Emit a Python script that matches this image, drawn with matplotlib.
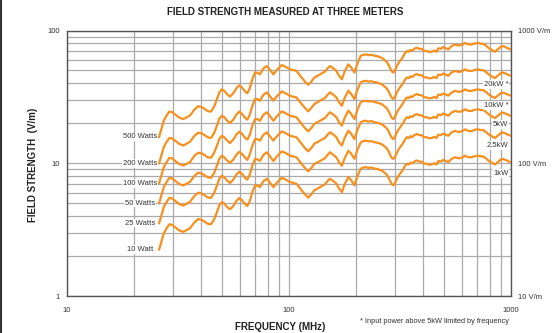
import matplotlib
matplotlib.use('Agg')
import matplotlib.pyplot as plt
from matplotlib.lines import Line2D
from matplotlib.ticker import NullLocator, NullFormatter

plt.rcParams['font.family'] = ['Liberation Sans', 'DejaVu Sans']

freq = [26, 27.3, 28.1, 28.9, 29.7, 30.7, 32, 33.4, 35.8, 37.5,
        39, 40.3, 41.4, 43, 44.5, 46, 47.3, 48.5, 49.8, 51,
        52.5, 54.2, 56, 58, 59.7, 61.5, 63.5, 64.9, 66.5, 68.5,
        70.3, 72, 74, 76.5, 79.4, 82, 85, 88, 92.7, 97,
        101, 108, 114, 118, 122, 126, 130, 138, 145, 150,
        153, 158, 163, 168, 173, 178, 185, 190, 197, 203,
        210, 216, 222, 228, 235, 242, 250, 256, 262, 268,
        275, 281, 286, 291, 295, 300, 305, 310, 316, 322,
        328, 334, 340, 346, 352, 358, 367, 376, 385, 395,
        405, 417, 428, 439, 450, 462, 470, 483, 495, 508,
        522, 540, 559, 580, 600, 621, 643, 665, 688, 712,
        730, 750, 770, 790, 818, 847, 877, 908, 932, 956,
        978, 1000]

w10 = [2.24, 2.97, 3.24, 3.47, 3.44, 3.30, 3.12, 3.04, 3.24, 3.59,
       3.80, 3.75, 3.66, 3.50, 3.47, 3.78, 4.27, 4.82, 5.10, 4.98,
       4.70, 4.50, 4.74, 5.21, 5.47, 5.25, 4.90, 4.76, 5.17, 6.13,
       6.81, 6.79, 6.61, 7.30, 7.64, 7.17, 6.61, 7.11, 7.78, 7.50,
       7.21, 7.01, 6.25, 5.83, 5.51, 5.83, 6.25, 6.61, 6.93, 7.41,
       7.64, 7.36, 7.05, 6.45, 6.06, 6.93, 7.86, 7.50, 6.81, 7.93,
       9.08, 9.29, 9.34, 9.22, 9.29, 9.13, 9.05, 8.91, 8.82, 8.53,
       8.24, 7.77, 7.30, 6.93, 6.81, 7.05, 7.55, 7.93, 8.33, 8.67,
       9.13, 9.62, 9.91, 9.79, 10.1, 9.96, 10.3, 10.5, 10.3, 10.3,
       9.96, 9.91, 9.75, 9.79, 10.0, 9.79, 10.4, 10.3, 10.6, 10.4,
       10.2, 10.8, 11.1, 10.9, 11.0, 11.4, 11.1, 11.1, 11.3, 11.4,
       11.25, 11.25, 10.9, 10.5, 10.1, 9.79, 10.3, 10.8, 10.7, 10.5,
       10.3, 10.2]

w25 = [3.54, 4.69, 5.12, 5.48, 5.44, 5.21, 4.93, 4.80, 5.12, 5.67,
       6.00, 5.93, 5.78, 5.53, 5.48, 5.97, 6.75, 7.62, 8.06, 7.87,
       7.43, 7.11, 7.49, 8.23, 8.64, 8.30, 7.74, 7.52, 8.17, 9.69,
       10.8, 10.7, 10.4, 11.5, 12.1, 11.3, 10.4, 11.2, 12.3, 11.9,
       11.4, 11.1, 9.88, 9.21, 8.71, 9.21, 9.88, 10.4, 10.9, 11.7,
       12.1, 11.6, 11.1, 10.2, 9.57, 10.9, 12.4, 11.9, 10.8, 12.5,
       14.3, 14.7, 14.8, 14.6, 14.7, 14.4, 14.3, 14.1, 13.9, 13.5,
       13.0, 12.3, 11.5, 10.9, 10.8, 11.1, 11.9, 12.5, 13.2, 13.7,
       14.4, 15.2, 15.7, 15.5, 16.0, 15.7, 16.3, 16.6, 16.3, 16.3,
       15.7, 15.7, 15.4, 15.5, 15.8, 15.5, 16.4, 16.3, 16.7, 16.4,
       16.1, 17.1, 17.5, 17.2, 17.4, 18.0, 17.5, 17.5, 17.9, 18.0,
       17.8, 17.8, 17.2, 16.6, 16.0, 15.5, 16.3, 17.1, 16.9, 16.6,
       16.3, 16.1]

w50 = [5.01, 6.64, 7.24, 7.76, 7.69, 7.38, 6.98, 6.80, 7.24, 8.03,
       8.50, 8.39, 8.18, 7.83, 7.76, 8.45, 9.55, 10.8, 11.4, 11.1,
       10.5, 10.1, 10.6, 11.6, 12.2, 11.7, 11.0, 10.6, 11.6, 13.7,
       15.2, 15.2, 14.8, 16.3, 17.1, 16.0, 14.8, 15.9, 17.4, 16.8,
       16.1, 15.7, 14.0, 13.0, 12.3, 13.0, 14.0, 14.8, 15.5, 16.6,
       17.1, 16.5, 15.8, 14.4, 13.6, 15.5, 17.6, 16.8, 15.2, 17.7,
       20.3, 20.8, 20.9, 20.6, 20.8, 20.4, 20.2, 19.9, 19.7, 19.1,
       18.4, 17.4, 16.3, 15.5, 15.2, 15.8, 16.9, 17.7, 18.6, 19.4,
       20.4, 21.5, 22.2, 21.9, 22.6, 22.3, 23.0, 23.5, 23.0, 23.0,
       22.3, 22.2, 21.8, 21.9, 22.4, 21.9, 23.3, 23.0, 23.7, 23.3,
       22.8, 24.1, 24.8, 24.4, 24.6, 25.5, 24.8, 24.8, 25.3, 25.5,
       25.2, 25.2, 24.4, 23.5, 22.6, 21.9, 23.0, 24.1, 23.9, 23.5,
       23.0, 22.8]

w100 = [7.08, 9.39, 10.2, 11.0, 10.9, 10.4, 9.87, 9.61, 10.2, 11.4,
        12.0, 11.9, 11.6, 11.1, 11.0, 12.0, 13.5, 15.2, 16.1, 15.7,
        14.9, 14.2, 15.0, 16.5, 17.3, 16.6, 15.5, 15.1, 16.3, 19.4,
        21.5, 21.5, 20.9, 23.1, 24.2, 22.7, 20.9, 22.5, 24.6, 23.7,
        22.8, 22.2, 19.8, 18.4, 17.4, 18.4, 19.8, 20.9, 21.9, 23.4,
        24.2, 23.3, 22.3, 20.4, 19.2, 21.9, 24.9, 23.7, 21.5, 25.1,
        28.7, 29.4, 29.5, 29.2, 29.4, 28.9, 28.6, 28.2, 27.9, 27.0,
        26.1, 24.6, 23.1, 21.9, 21.5, 22.3, 23.9, 25.1, 26.3, 27.4,
        28.9, 30.4, 31.3, 31.0, 31.9, 31.5, 32.6, 33.2, 32.6, 32.6,
        31.5, 31.3, 30.8, 31.0, 31.6, 31.0, 32.9, 32.6, 33.5, 32.9,
        32.3, 34.1, 35.1, 34.5, 34.8, 36.0, 35.1, 35.1, 35.7, 36.0,
        35.6, 35.6, 34.5, 33.2, 31.9, 31.0, 32.6, 34.1, 33.8, 33.2,
        32.6, 32.3]

w200 = [10.0, 13.3, 14.5, 15.5, 15.4, 14.8, 14.0, 13.6, 14.5, 16.1,
        17.0, 16.8, 16.4, 15.7, 15.5, 16.9, 19.1, 21.6, 22.8, 22.3,
        21.0, 20.1, 21.2, 23.3, 24.5, 23.5, 21.9, 21.3, 23.1, 27.4,
        30.5, 30.4, 29.6, 32.6, 34.2, 32.1, 29.6, 31.8, 34.8, 33.5,
        32.2, 31.3, 27.9, 26.1, 24.6, 26.1, 27.9, 29.6, 31.0, 33.1,
        34.2, 32.9, 31.5, 28.8, 27.1, 31.0, 35.2, 33.5, 30.5, 35.5,
        40.6, 41.5, 41.8, 41.2, 41.5, 40.8, 40.5, 39.8, 39.4, 38.1,
        36.8, 34.7, 32.6, 31.0, 30.5, 31.5, 33.8, 35.5, 37.3, 38.8,
        40.8, 43.0, 44.3, 43.8, 45.2, 44.5, 46.1, 47.0, 46.1, 46.1,
        44.5, 44.3, 43.6, 43.8, 44.7, 43.8, 46.5, 46.1, 47.4, 46.5,
        45.6, 48.3, 49.6, 48.7, 49.2, 51.0, 49.6, 49.6, 50.5, 51.0,
        50.3, 50.3, 48.7, 47.0, 45.2, 43.8, 46.1, 48.3, 47.9, 47.0,
        46.1, 45.6]

w500 = [15.8, 21.0, 22.9, 24.5, 24.3, 23.3, 22.1, 21.5, 22.9, 25.4,
        26.9, 26.5, 25.9, 24.7, 24.5, 26.7, 30.2, 34.1, 36.1, 35.2,
        33.2, 31.8, 33.5, 36.8, 38.7, 37.1, 34.6, 33.7, 36.6, 43.3,
        48.2, 48.0, 46.7, 51.6, 54.0, 50.7, 46.7, 50.3, 55.0, 53.0,
        51.0, 49.6, 44.2, 41.2, 39.0, 41.2, 44.2, 46.7, 49.0, 52.4,
        54.0, 52.0, 49.9, 45.6, 42.9, 49.0, 55.6, 53.0, 48.2, 56.1,
        64.2, 65.7, 66.0, 65.2, 65.7, 64.6, 64.0, 63.0, 62.4, 60.3,
        58.3, 54.9, 51.6, 49.0, 48.2, 49.9, 53.4, 56.1, 58.9, 61.3,
        64.6, 68.0, 70.1, 69.2, 71.4, 70.4, 72.8, 74.2, 72.8, 72.8,
        70.4, 70.1, 68.9, 69.2, 70.7, 69.2, 73.5, 72.8, 75.0, 73.5,
        72.1, 76.4, 78.5, 77.1, 77.8, 80.6, 78.5, 78.5, 79.9, 80.6,
        79.5, 79.5, 77.1, 74.2, 71.4, 69.2, 72.8, 76.4, 75.7, 74.2,
        72.8, 72.1]

series = [w10, w25, w50, w100, w200, w500]
left_labels = ['10 Watt', '25 Watts', '50 Watts', '100 Watts', '200 Watts', '500 Watts']
right_labels = ['1kW', '2.5kW', '5kW', '10kW *', '20kW *']
right_label_y = [8.38, 13.6, 19.5, 27.1, 39.0]

orange = '#f7901e'
grid_c = '#aaaaaa'

fig = plt.figure(figsize=(5.53, 3.33), dpi=100)
ax = fig.add_axes([0.1212, 0.1111, 0.8029, 0.7973])
ax.set_xscale('log')
ax.set_yscale('log')
ax.set_xlim(10, 1000)
ax.set_ylim(1, 100)

ax.set_xticks([10, 100, 1000])
ax.set_xticklabels(['10', '100', '1000'])
ax.set_xticks([20, 30, 40, 50, 60, 70, 80, 90, 200, 300, 400, 500, 600, 700, 800, 900],
              minor=True)
ax.set_yticks([1, 10, 100])
ax.set_yticklabels(['1', '10', '100'])
ax.set_yticks([2, 3, 4, 5, 6, 7, 8, 9, 20, 30, 40, 50, 60, 70, 80, 90], minor=True)
ax.xaxis.set_minor_formatter(NullFormatter())
ax.yaxis.set_minor_formatter(NullFormatter())

ax.grid(True, which='both', color=grid_c, lw=0.9, zorder=0)
ax.set_axisbelow(True)
for s in ax.spines.values():
    s.set_color('#555555')
    s.set_linewidth(1.0)

ax.tick_params(which='both', length=0)
ax.tick_params(axis='x', labelsize=5.5, pad=8, colors='#333333')
ax.tick_params(axis='y', labelsize=5.5, pad=5, colors='#333333')

for vals in series:
    ax.plot(freq, vals, color=orange, lw=1.6, zorder=3, solid_joinstyle='round')

for vals, lab in zip(series, left_labels):
    ax.text(21.3, vals[0], lab, ha='center', va='center', fontsize=5.5,
            color='#333333', zorder=4,
            bbox=dict(fc='white', ec='none', pad=0.6))

for yv, lab in zip(right_label_y, right_labels):
    ax.text(975, yv, lab, ha='right', va='center', fontsize=5.5,
            color='#333333', zorder=4,
            bbox=dict(fc='white', ec='none', pad=0.6))

# right-hand V/m scale (only touch its y axis, x is shared with ax)
ax2 = ax.twinx()
ax2.set_yscale('log')
ax2.set_ylim(10, 1000)
ax2.set_yticks([10, 100, 1000])
ax2.set_yticklabels(['10 V/m', '100 V/m', '1000 V/m'])
ax2.yaxis.set_minor_locator(NullLocator())
ax2.tick_params(axis='y', which='both', length=0, labelsize=5.5, pad=5, colors='#333333')
for s in ax2.spines.values():
    s.set_visible(False)

fig.text(0.515, 1 - 12 / 333, 'FIELD STRENGTH MEASURED AT THREE METERS',
         ha='center', va='center', fontsize=7, fontweight='bold', color='#222222')
fig.text(33 / 553, 1 - 165 / 333, 'FIELD STRENGTH  (V/m)', rotation=90,
         ha='center', va='center', fontsize=7, fontweight='bold', color='#222222')
fig.text(280 / 553, 1 - 326.5 / 333, 'FREQUENCY (MHz)',
         ha='center', va='center', fontsize=7, fontweight='bold', color='#222222')
fig.text(434.5 / 553, 1 - 321.5 / 333, '* Input power above 5kW limited by frequency',
         ha='center', va='center', fontsize=5.3, color='#333333')

fig.add_artist(Line2D([0.002, 0.002], [0, 1], color='#333333', lw=1.5,
                      transform=fig.transFigure))

fig.savefig('out.png', dpi=100)
